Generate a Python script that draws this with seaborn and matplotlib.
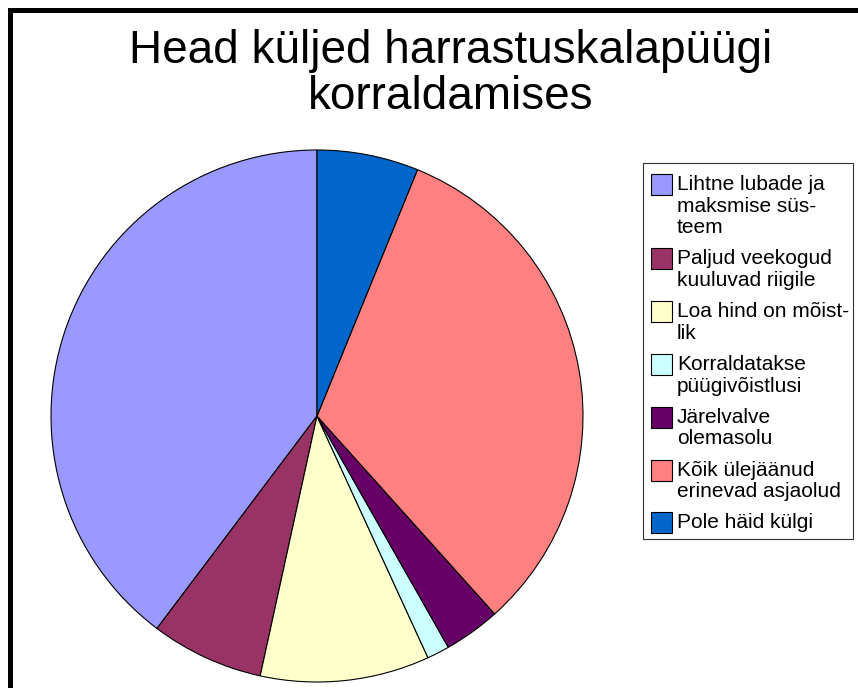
import matplotlib
matplotlib.use("Agg")
import matplotlib.pyplot as plt
from matplotlib.patches import Rectangle
import seaborn as sns

# data (counts, share of answers)
categories = [
    "Lihtne lubade ja maksmise süsteem",
    "Paljud veekogud kuuluvad riigile",
    "Loa hind on mõistlik",
    "Korraldatakse püügivõistlusi",
    "Järelvalve olemasolu",
    "Kõik ülejäänud erinevad asjaolud",
    "Pole häid külgi",
]
counts = [58, 10, 15, 2, 5, 47, 9]
# legend labels wrapped as in the reference
legend_lines = [
    ["Lihtne lubade ja", "maksmise süs-", "teem"],
    ["Paljud veekogud", "kuuluvad riigile"],
    ["Loa hind on mõist-", "lik"],
    ["Korraldatakse", "püügivõistlusi"],
    ["Järelvalve", "olemasolu"],
    ["Kõik ülejäänud", "erinevad asjaolud"],
    ["Pole häid külgi"],
]
colors = ["#9999FF", "#993366", "#FFFFCC", "#CCFFFF", "#660066", "#FF8080", "#0066CC"]
title_lines = ["Head küljed harrastuskalapüügi", "korraldamises"]

sns.set_theme(style="white")
plt.rcParams["font.family"] = ["Liberation Sans", "DejaVu Sans"]

W, H = 858, 688
fig = plt.figure(figsize=(W / 100, H / 100), dpi=100)
fig.patch.set_facecolor("white")


def fx(x):
    return x / W


def fy(y):
    return 1 - y / H


# pie: centre (317, 416), radius 266 px
cx, cy, r = 317, 416, 266
ax = fig.add_axes([fx(cx - r), fy(cy + r), 2 * r / W, 2 * r / H])
wedges, _ = ax.pie(counts, colors=colors, startangle=90, counterclock=True,
                   wedgeprops=dict(edgecolor="black", linewidth=0.8))
ax.set_xlim(-1, 1)
ax.set_ylim(-1, 1)
ax.set_aspect("equal")
ax.axis("off")
for w in wedges:
    w.set_clip_on(False)

# title
for line, base in zip(title_lines, [63, 109]):
    fig.text(fx(451), fy(base), line, ha="center", va="baseline",
             fontsize=33, color="black")

# legend box drawn by hand
fig.patches.append(Rectangle((fx(643), fy(539)), fx(853 - 643), (539 - 163) / H,
                             transform=fig.transFigure, facecolor="white",
                             edgecolor="#333333", linewidth=0.8))
line_h = 21.6
gap = 9.6
base = 190
for lines, col in zip(legend_lines, colors):
    fig.patches.append(Rectangle((fx(651), fy(base + 5)), 21 / W, 21 / H,
                                 transform=fig.transFigure, facecolor=col,
                                 edgecolor="black", linewidth=0.8))
    for i, t in enumerate(lines):
        fig.text(fx(677), fy(base + i * line_h), t, ha="left", va="baseline",
                 fontsize=15, color="black")
    base += len(lines) * line_h + gap

# thick black frame at the top and left edges
fig.patches.append(Rectangle((fx(8), 0), 5 / W, fy(8), transform=fig.transFigure,
                             facecolor="black", edgecolor="none"))
fig.patches.append(Rectangle((fx(8), fy(13)), 1 - fx(8), 5 / H, transform=fig.transFigure,
                             facecolor="black", edgecolor="none"))

fig.savefig("out.png", dpi=100)
